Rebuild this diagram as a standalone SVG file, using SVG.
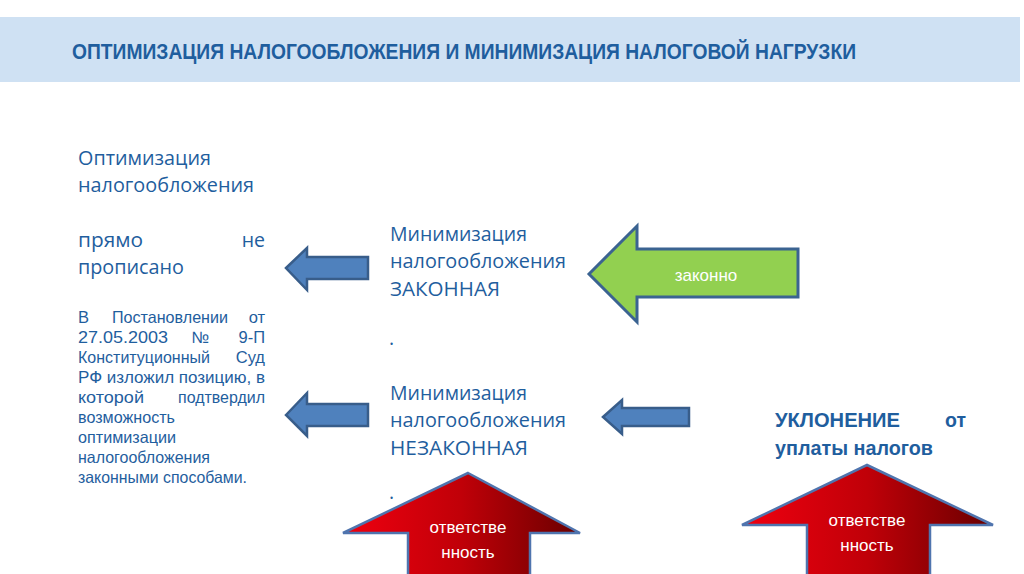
<svg xmlns="http://www.w3.org/2000/svg" width="1024" height="574" viewBox="0 0 1024 574">
<style>
.t{font-family:"Open Sans","Liberation Sans",sans-serif;fill:#1F5E9E;font-size:19.5px}
.p{font-family:"Liberation Sans",Arial,sans-serif;fill:#1F5E9E;font-size:16.5px}
.b{font-family:"Liberation Sans",Arial,sans-serif;font-weight:bold;fill:#1F5E9E}
.w{font-family:"Liberation Sans",Arial,sans-serif;fill:#FFFFFF;font-size:17px;text-anchor:middle}
.ba{fill:#4F81BD;stroke:#385D8A;stroke-width:2.5;stroke-linejoin:miter}
.ga{fill:#92D050;stroke:#3B6391;stroke-width:3;stroke-linejoin:miter}
.ra{fill:url(#red);stroke:#4F74AE;stroke-width:2.5;stroke-linejoin:miter}
</style>
<defs>
<linearGradient id="red" x1="0" y1="0" x2="1" y2="0">
<stop offset="0" stop-color="#F00010"/>
<stop offset="0.5" stop-color="#C00008"/>
<stop offset="1" stop-color="#680000"/>
</linearGradient>
</defs>
<rect x="0" y="0" width="1024" height="574" fill="#FFFFFF"/>
<g id="header">
<rect x="0" y="17" width="1020" height="65" fill="#CFE1F3"/>
<text class="b" x="72" y="59" font-size="22" textLength="784" lengthAdjust="spacingAndGlyphs" fill="#1B5A96">ОПТИМИЗАЦИЯ НАЛОГООБЛОЖЕНИЯ И МИНИМИЗАЦИЯ НАЛОГОВОЙ НАГРУЗКИ</text>
</g>
<g id="optimization">
<text class="t" x="78" y="165" textLength="133" lengthAdjust="spacingAndGlyphs">Оптимизация</text>
<text class="t" x="78" y="192" textLength="176" lengthAdjust="spacingAndGlyphs">налогообложения</text>
<text class="t" x="78" y="247" textLength="65" lengthAdjust="spacingAndGlyphs">прямо</text>
<text class="t" x="265" y="247" text-anchor="end">не</text>
<text class="t" x="78" y="274" textLength="106" lengthAdjust="spacingAndGlyphs">прописано</text>
<g id="ruling">
<text class="p" x="78" y="323">В</text>
<text class="p" x="112" y="323" textLength="116" lengthAdjust="spacingAndGlyphs">Постановлении</text>
<text class="p" x="265" y="323" text-anchor="end">от</text>
<text class="p" x="78" y="343" textLength="90" lengthAdjust="spacingAndGlyphs">27.05.2003</text>
<text class="p" x="200" y="343" text-anchor="middle">№</text>
<text class="p" x="265" y="343" text-anchor="end">9-П</text>
<text class="p" x="78" y="363" textLength="132" lengthAdjust="spacingAndGlyphs">Конституционный</text>
<text class="p" x="265" y="363" text-anchor="end">Суд</text>
<text class="p" x="78" y="383" textLength="187" lengthAdjust="spacingAndGlyphs">РФ изложил позицию, в</text>
<text class="p" x="78" y="403" textLength="66" lengthAdjust="spacingAndGlyphs">которой</text>
<text class="p" x="178" y="403" textLength="87" lengthAdjust="spacingAndGlyphs">подтвердил</text>
<text class="p" x="78" y="423" textLength="97" lengthAdjust="spacingAndGlyphs">возможность</text>
<text class="p" x="78" y="443" textLength="98" lengthAdjust="spacingAndGlyphs">оптимизации</text>
<text class="p" x="78" y="463" textLength="132" lengthAdjust="spacingAndGlyphs">налогообложения</text>
<text class="p" x="78" y="483" textLength="169" lengthAdjust="spacingAndGlyphs">законными способами.</text>
</g>
</g>
<g id="legal">
<text class="t" x="390" y="241" textLength="137" lengthAdjust="spacingAndGlyphs">Минимизация</text>
<text class="t" x="390" y="268" textLength="176" lengthAdjust="spacingAndGlyphs">налогообложения</text>
<text class="t" x="390" y="296" textLength="110" lengthAdjust="spacingAndGlyphs">ЗАКОННАЯ</text>
<text class="t" x="389" y="345" font-size="12">.</text>
</g>
<g id="illegal">
<text class="t" x="390" y="400" textLength="137" lengthAdjust="spacingAndGlyphs">Минимизация</text>
<text class="t" x="390" y="427" textLength="176" lengthAdjust="spacingAndGlyphs">налогообложения</text>
<text class="t" x="390" y="455" textLength="138" lengthAdjust="spacingAndGlyphs">НЕЗАКОННАЯ</text>
<text class="t" x="389" y="499" font-size="12">.</text>
</g>
<g id="evasion">
<text class="b" x="775" y="427" font-size="19.5" textLength="125" lengthAdjust="spacingAndGlyphs">УКЛОНЕНИЕ</text>
<text class="b" x="966" y="427" font-size="19.5" text-anchor="end">от</text>
<text class="b" x="775" y="455" font-size="19.5" textLength="158" lengthAdjust="spacingAndGlyphs">уплаты налогов</text>
</g>
<g id="connectors">
<polygon class="ba" points="286,268 307,248 307,257 368,257 368,279 307,279 307,290"/>
<polygon class="ba" points="286,415 307,393 307,404 368,404 368,426 307,426 307,436"/>
<g id="legal-arrow">
<polygon class="ga" points="589,274 637,226 637,249 798,249 798,297 637,297 637,322"/>
<text class="w" x="706" y="281">законно</text>
</g>
<polygon class="ba" points="603,417 622,400 622,408 689,408 689,426 622,426 622,434"/>
<g id="resp-1">
<polygon class="ra" points="468,473 580,533 530,533 530,580 408,580 408,533 343,533"/>
<text class="w" x="468" y="533">ответстве</text>
<text class="w" x="468" y="558">нность</text>
</g>
<g id="resp-2">
<polygon class="ra" points="867,465 993,525 930,525 930,580 807,580 807,525 742,525"/>
<text class="w" x="867" y="526">ответстве</text>
<text class="w" x="867" y="551">нность</text>
</g>
</g>
</svg>
